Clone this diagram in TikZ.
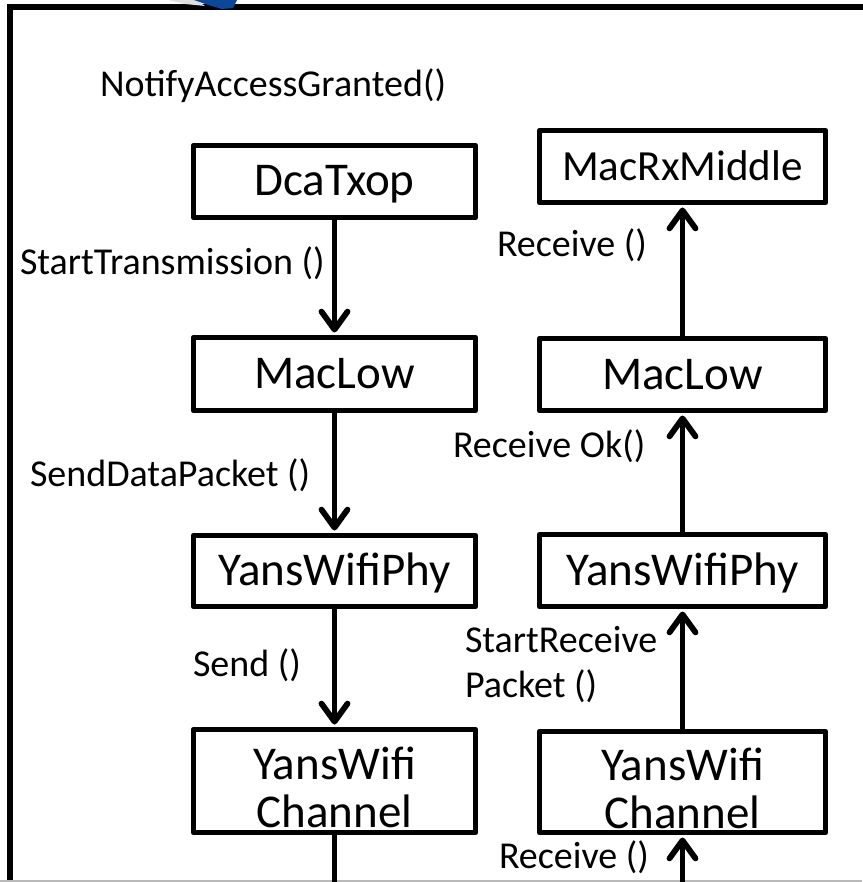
\documentclass[tikz,border=0pt]{standalone}
\usepackage{fontspec}
\setmainfont{Carlito}
\usetikzlibrary{arrows.meta}
\begin{document}
\begin{tikzpicture}[x=1pt,y=-1pt,
  box/.style={draw, line width=5.8pt, line join=round, inner sep=0pt, outer sep=0pt,
    font=\fontsize{47}{48}\selectfont, text height=29pt, text depth=0pt},
  lbox/.style={box, minimum width=282pt},
  rbox/.style={box, minimum width=286pt},
  chan/.style={align=center, text height=92pt, text depth=0pt},
  lab/.style={anchor=base west, inner sep=0pt, outer sep=0pt, font=\fontsize{38}{45}\selectfont, align=left},
  arr/.style={line width=5.8pt, shorten >=5pt, -{Straight Barb[length=18pt,width=26pt,round]}},
  plain/.style={line width=5.8pt},
  frame/.style={line width=5.8pt, line join=miter}
]
\useasboundingbox (0,0) rectangle (862,882);
\definecolor{logoblue}{RGB}{12,72,150}

% outer frame (cropped)
\coordinate (fbl) at (9.8,900);
\coordinate (ftl) at (9.8,7.4);
\coordinate (ftr) at (880,7.4);
\draw[frame] (fbl) -- (ftl) -- (ftr);
\coordinate (gl) at (0,881);
\coordinate (gr) at (862,881);
\draw[gray!55, line width=1.5pt] (gl) -- (gr);

% logo fragment at the top
\fill[gray!25] (168,0) -- (196,0) -- (205,6) -- (185,4) -- cycle;
\fill[logoblue] (194,0) -- (237,0) -- (233,8) -- (222,9) -- (208,5) -- cycle;

% left column
\node[lbox, minimum height=72pt] (dca) at (334.5,181.5) {DcaTxop};
\node[lbox, minimum height=73pt] (macL) at (334.5,374) {MacLow};
\node[lbox, minimum height=71pt] (phyL) at (334.5,571) {YansWifiPhy};
\node[lbox, chan, minimum height=103pt] (chL) at (334.5,781) {YansWifi\\Channel};

% right column
\node[rbox, minimum height=72pt, font=\fontsize{43}{48}\selectfont] (mrx) at (682.5,166.5) {MacRxMiddle};
\node[rbox, minimum height=72pt] (macR) at (682.5,374.5) {MacLow};
\node[rbox, minimum height=72pt] (phyR) at (682.5,570.5) {YansWifiPhy};
\node[rbox, chan, minimum height=101pt] (chR) at (682.5,782) {YansWifi\\Channel};

% connectors
\draw[arr] (dca.south) -- (macL.north);
\draw[arr] (macL.south) -- (phyL.north);
\draw[arr] (phyL.south) -- (chL.north);
\coordinate (lb) at (334.5,900);
\draw[plain] (chL.south) -- (lb);

\draw[arr] (macR.north) -- (mrx.south);
\draw[arr] (phyR.north) -- (macR.south);
\draw[arr] (chR.north) -- (phyR.south);
\coordinate (rb) at (682.5,900);
\draw[arr] (rb) -- (chR.south);

% labels
\node[lab] (l1) at (100,97) {NotifyAccessGranted()};
\node[lab] (l2) at (20,275) {StartTransmission ()};
\node[lab] (l3) at (30,486) {SendDataPacket ()};
\node[lab] (l4) at (193,676) {Send ()};
\node[lab] (l5) at (497,257) {Receive ()};
\node[lab] (l6) at (453,457) {Receive Ok()};
\node[lab] (l7) at (465,697) {StartReceive\\Packet ()};
\node[lab] (l8) at (499,868) {Receive ()};
\end{tikzpicture}
\end{document}
